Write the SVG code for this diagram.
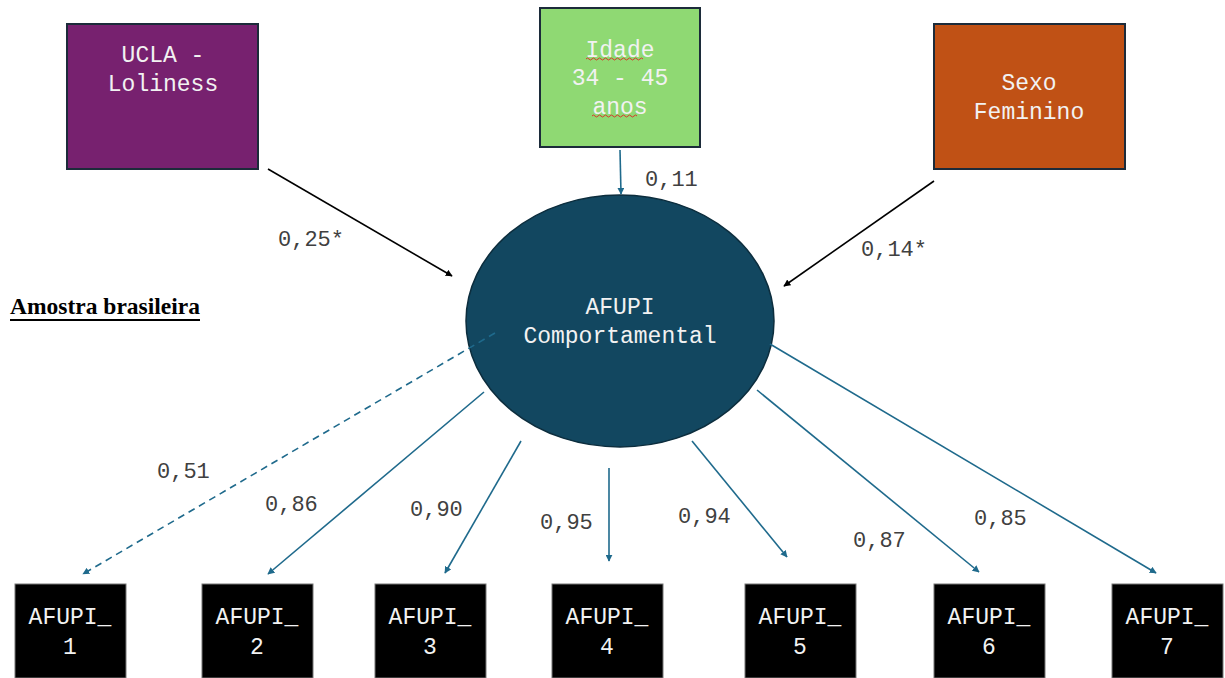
<svg xmlns="http://www.w3.org/2000/svg" width="1225" height="678" viewBox="0 0 1225 678">
<defs>
<style>
.nt{font-family:"Liberation Mono","Courier New",monospace;font-size:23px;fill:#f2f2f2;text-anchor:middle}
.lb{font-family:"Liberation Mono","Courier New",monospace;font-size:22px;fill:#404040}
.box{stroke:#1c2b3a;stroke-width:2}
.obs{fill:#000;stroke:#777;stroke-width:1}
.teal{stroke:#1f6a8c;stroke-width:1.6;fill:none}
.blk{stroke:#000;stroke-width:1.6;fill:none}
.wavy{stroke:#d9372b;stroke-width:1;fill:none}
</style>
<marker id="ah" viewBox="0 0 10 10" refX="9" refY="5" markerWidth="7" markerHeight="7" orient="auto" markerUnits="userSpaceOnUse"><path d="M0,0 L10,5 L0,10 z" fill="#000"/></marker>
<marker id="aht" viewBox="0 0 10 10" refX="9" refY="5" markerWidth="7" markerHeight="7" orient="auto" markerUnits="userSpaceOnUse"><path d="M0,0 L10,5 L0,10 z" fill="#1f6a8c"/></marker>
</defs>
<rect width="1225" height="678" fill="#fff"/>

<g id="ucla">
<rect class="box" x="67" y="24" width="191" height="145" fill="#77216f"/>
<text class="nt" x="163" y="62">UCLA -</text>
<text class="nt" x="163" y="91">Loliness</text>
</g>
<g id="idade">
<rect class="box" x="540" y="8" width="160" height="139" fill="#8fd973"/>
<text class="nt" x="620" y="57">Idade</text>
<text class="nt" x="620" y="85">34 - 45</text>
<text class="nt" x="620" y="114">anos</text>
<path class="wavy" d="M586,59 q1.5,-2 3,0 t3,0 t3,0 t3,0 t3,0 t3,0 t3,0 t3,0 t3,0 t3,0 t3,0 t3,0 t3,0 t3,0 t3,0 t3,0 t3,0 t3,0 t3,0"/>
<path class="wavy" d="M592,116 q1.5,-2 3,0 t3,0 t3,0 t3,0 t3,0 t3,0 t3,0 t3,0 t3,0 t3,0 t3,0 t3,0 t3,0 t3,0 t3,0"/>
</g>
<g id="sexo">
<rect class="box" x="934" y="24" width="191" height="145" fill="#c05115"/>
<text class="nt" x="1029" y="90">Sexo</text>
<text class="nt" x="1029" y="119">Feminino</text>
</g>
<g id="afupi">
<ellipse cx="620" cy="321" rx="154" ry="126" fill="#124760" stroke="#0c2d3d" stroke-width="1.5"/>
<text class="nt" x="620" y="314">AFUPI</text>
<text class="nt" x="620" y="343">Comportamental</text>
</g>

<g id="title">
<text x="10" y="314" font-family="'Liberation Serif','Times New Roman',serif" font-size="23.5" font-weight="bold" fill="#000">Amostra brasileira</text>
<line x1="10" y1="320" x2="200" y2="320" stroke="#000" stroke-width="1.8"/>
</g>

<g id="afupi1"><rect class="obs" x="15" y="584" width="111" height="94"/><text class="nt" x="70" y="624">AFUPI_</text><text class="nt" x="70" y="654">1</text></g>
<g id="afupi2"><rect class="obs" x="202" y="584" width="111" height="94"/><text class="nt" x="257" y="624">AFUPI_</text><text class="nt" x="257" y="654">2</text></g>
<g id="afupi3"><rect class="obs" x="375" y="584" width="111" height="94"/><text class="nt" x="430" y="624">AFUPI_</text><text class="nt" x="430" y="654">3</text></g>
<g id="afupi4"><rect class="obs" x="552" y="584" width="111" height="94"/><text class="nt" x="607" y="624">AFUPI_</text><text class="nt" x="607" y="654">4</text></g>
<g id="afupi5"><rect class="obs" x="745" y="584" width="111" height="94"/><text class="nt" x="800" y="624">AFUPI_</text><text class="nt" x="800" y="654">5</text></g>
<g id="afupi6"><rect class="obs" x="934" y="584" width="111" height="94"/><text class="nt" x="989" y="624">AFUPI_</text><text class="nt" x="989" y="654">6</text></g>
<g id="afupi7"><rect class="obs" x="1112" y="584" width="111" height="94"/><text class="nt" x="1167" y="624">AFUPI_</text><text class="nt" x="1167" y="654">7</text></g>

<g id="connectors">
<line class="blk" x1="268" y1="169" x2="452" y2="276" marker-end="url(#ah)"/>
<line class="teal" x1="620" y1="150" x2="621" y2="194" marker-end="url(#aht)"/>
<line class="blk" x1="934" y1="181" x2="784" y2="286" marker-end="url(#ah)"/>
<line class="teal" x1="495" y1="333" x2="83" y2="574" stroke-dasharray="7,5" marker-end="url(#aht)"/>
<line class="teal" x1="484" y1="392" x2="268" y2="574" marker-end="url(#aht)"/>
<line class="teal" x1="521" y1="441" x2="445" y2="573" marker-end="url(#aht)"/>
<line class="teal" x1="609" y1="468" x2="609" y2="561" marker-end="url(#aht)"/>
<line class="teal" x1="692" y1="441" x2="787" y2="557" marker-end="url(#aht)"/>
<line class="teal" x1="757" y1="390" x2="979" y2="572" marker-end="url(#aht)"/>
<line class="teal" x1="770" y1="344" x2="1156" y2="573" marker-end="url(#aht)"/>
</g>

<g id="labels">
<text class="lb" x="278" y="246">0,25*</text>
<text class="lb" x="645" y="186">0,11</text>
<text class="lb" x="861" y="256">0,14*</text>
<text class="lb" x="157" y="478">0,51</text>
<text class="lb" x="265" y="511">0,86</text>
<text class="lb" x="410" y="516">0,90</text>
<text class="lb" x="540" y="529">0,95</text>
<text class="lb" x="678" y="523">0,94</text>
<text class="lb" x="853" y="547">0,87</text>
<text class="lb" x="974" y="525">0,85</text>
</g>
</svg>
